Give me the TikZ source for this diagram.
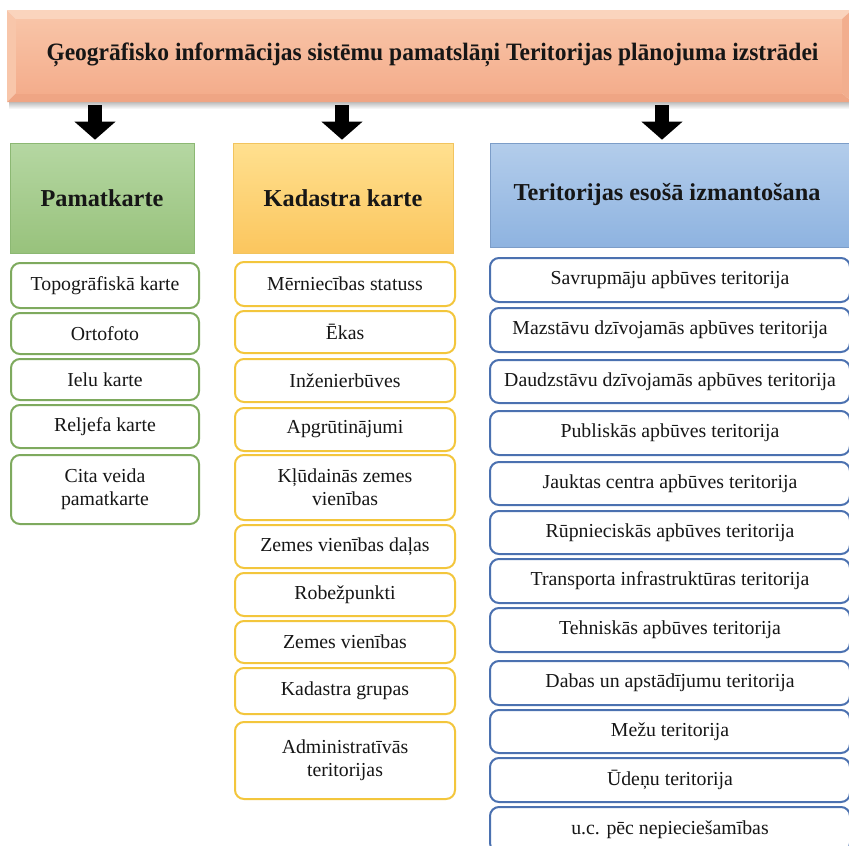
\documentclass[tikz,border=0pt]{standalone}
\usepackage{fontspec}
\usepackage{graphicx}
\setmainfont{Liberation Serif}
\usetikzlibrary{arrows.meta,shadows,calc}

\definecolor{textc}{HTML}{161616}
\definecolor{bevTop}{HTML}{FAD4BD}
\definecolor{bevLeft}{HTML}{F8C6AA}
\definecolor{bevBot}{HTML}{EFA584}
\definecolor{bevRight}{HTML}{F2AE8E}
\definecolor{faceTop}{HTML}{F8C4A7}
\definecolor{faceBot}{HTML}{F4AD8C}
\definecolor{greenTop}{HTML}{B5D7A2}
\definecolor{greenBot}{HTML}{98C27C}
\definecolor{greenEdge}{HTML}{8CB873}
\definecolor{greenLine}{HTML}{7EAA5E}
\definecolor{orangeTop}{HTML}{FFE08F}
\definecolor{orangeBot}{HTML}{FBC65E}
\definecolor{orangeEdge}{HTML}{F2C45E}
\definecolor{orangeLine}{HTML}{F3C63C}
\definecolor{blueTop}{HTML}{B3CDEB}
\definecolor{blueBot}{HTML}{8EB3E0}
\definecolor{blueEdge}{HTML}{7C9DC8}
\definecolor{blueLine}{HTML}{4B71B0}

\newcommand\itemfnt{\fontsize{19.8}{23}\selectfont}
\newcommand\hdrfnt{\fontsize{24.3}{28}\selectfont\bfseries}
\newcommand\ttlfnt{\fontsize{25}{30}\selectfont\bfseries}

\begin{document}
\begin{tikzpicture}[x=1pt,y=-1pt,
  itembox/.style={draw, line width=2pt, rounded corners=9pt, fill=white,
    align=center, inner sep=2pt, font=\itemfnt, text=textc},
  gitem/.style={itembox, draw=greenLine, minimum width=188pt},
  oitem/.style={itembox, draw=orangeLine, minimum width=220pt},
  bitem/.style={itembox, draw=blueLine, minimum width=360pt},
  hdrbox/.style={draw, line width=0.6pt, shading=axis, font=\hdrfnt, text=textc},
  bigarrow/.style={line width=14pt, -{Triangle[width=40pt,length=18pt]}, black}
]
\useasboundingbox (0,0) rectangle (849,846);
\clip (0,0) rectangle (849,846);
\fill[white] (0,0) rectangle (849,846);

% ---- bevelled title banner with a soft shadow ----
\shade[top color=black!30, bottom color=white] (9,101) rectangle (852,109);
\fill[bevTop]   (7,10) -- (852,10) -- (842,19) -- (16,19) -- cycle;
\fill[bevLeft]  (7,10) -- (16,19) -- (16,93) -- (7,102) -- cycle;
\fill[bevBot]   (7,102) -- (16,93) -- (842,93) -- (852,102) -- cycle;
\fill[bevRight] (852,10) -- (842,19) -- (842,93) -- (852,102) -- cycle;
\shade[top color=faceTop, bottom color=faceBot] (16,19) rectangle (842,93);
\node[minimum width=845pt, minimum height=92pt, inner sep=0pt] (banner) at (429.5,56) {};
\node[font=\ttlfnt, text=textc, inner sep=0pt] (title) at (432.5,55)
  {\scalebox{0.94}[1]{Ģeogrāfisko informācijas sistēmu pamatslāņi Teritorijas plānojuma izstrādei}};

% ---- column headers ----
\node[hdrbox, draw=greenEdge, top color=greenTop, bottom color=greenBot,
  minimum width=184pt, minimum height=110pt] (hG) at (102,198) {Pamatkarte};
\node[hdrbox, draw=orangeEdge, top color=orangeTop, bottom color=orangeBot,
  minimum width=220pt, minimum height=110pt] (hO) at (343,198) {Kadastra karte};
\node[hdrbox, draw=blueEdge, top color=blueTop, bottom color=blueBot,
  minimum width=368pt, minimum height=104pt] (hB) at (674,195) {};
\node[font=\hdrfnt, text=textc] (hBtext) at (667,195) {Teritorijas esošā izmantošana};

% ---- arrows from the banner to the headers ----
\coordinate (aG) at (95,0);
\coordinate (aO) at (342,0);
\coordinate (aB) at (662,0);
\draw[bigarrow] ([yshift=-3pt]banner.south -| aG) -- ([yshift=3pt]hG.north -| aG);
\draw[bigarrow] ([yshift=-3pt]banner.south -| aO) -- ([yshift=3pt]hO.north -| aO);
\draw[bigarrow] ([yshift=-3pt]banner.south -| aB) -- ([yshift=3pt]hB.north -| aB);

% ---- base map items ----
\node[gitem, minimum height=45pt] (g1) at (105,285.5) {Topogrāfiskā karte};
\node[gitem, minimum height=41pt] (g2) at (105,333.5) {Ortofoto};
\node[gitem, minimum height=41pt] (g3) at (105,379.5) {Ielu karte};
\node[gitem, minimum height=43pt] (g4) at (105,426.5) {Reljefa karte};
\node[gitem, minimum height=69pt] (g5) at (105,489.5) {Cita veida\\pamatkarte};

% ---- cadastral map items ----
\node[oitem, minimum height=44pt] (o1) at (345,284) {Mērniecības statuss};
\node[oitem, minimum height=42pt] (o2) at (345,332) {Ēkas};
\node[oitem, minimum height=43pt] (o3) at (345,380.5) {Inženierbūves};
\node[oitem, minimum height=43pt] (o4) at (345,429.5) {Apgrūtinājumi};
\node[oitem, minimum height=65pt] (o5) at (345,487.5) {Kļūdainās zemes\\vienības};
\node[oitem, minimum height=43pt] (o6) at (345,546.5) {Zemes vienības daļas};
\node[oitem, minimum height=43pt] (o7) at (345,594.5) {Robežpunkti};
\node[oitem, minimum height=42pt] (o8) at (345,642) {Zemes vienības};
\node[oitem, minimum height=46pt] (o9) at (345,691) {Kadastra grupas};
\node[oitem, minimum height=77pt] (o10) at (345,760.5) {Administratīvās\\teritorijas};

% ---- existing land use items ----
\node[bitem, minimum height=44pt] (b1) at (670,280) {Savrupmāju apbūves teritorija};
\node[bitem, minimum height=44pt] (b2) at (670,330) {Mazstāvu dzīvojamās apbūves teritorija};
\node[bitem, minimum height=43pt] (b3) at (670,381.5) {Daudzstāvu dzīvojamās apbūves teritorija};
\node[bitem, minimum height=44pt] (b4) at (670,433) {Publiskās apbūves teritorija};
\node[bitem, minimum height=43pt] (b5) at (670,483.5) {Jauktas centra apbūves teritorija};
\node[bitem, minimum height=43pt] (b6) at (670,532.5) {Rūpnieciskās apbūves teritorija};
\node[bitem, minimum height=44pt] (b7) at (670,581) {Transporta infrastruktūras teritorija};
\node[bitem, minimum height=44pt] (b8) at (670,630) {Tehniskās apbūves teritorija};
\node[bitem, minimum height=44pt] (b9) at (670,683) {Dabas un apstādījumu teritorija};
\node[bitem, minimum height=43pt] (b10) at (670,731.5) {Mežu teritorija};
\node[bitem, minimum height=44pt] (b11) at (670,780) {Ūdeņu teritorija};
\node[bitem, minimum height=45pt] (b12) at (670,829.5) {u.c. pēc nepieciešamības};
\end{tikzpicture}
\end{document}
